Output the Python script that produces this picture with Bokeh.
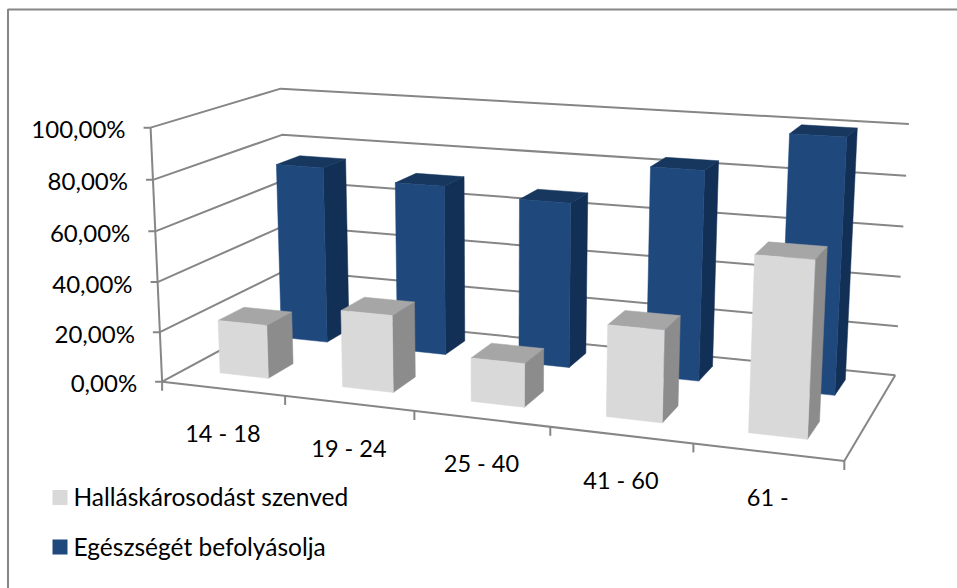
import numpy as np
from bokeh.core.properties import value
from bokeh.embed import file_html
from bokeh.models import Range1d
from bokeh.plotting import figure
from bokeh.resources import INLINE

categories = ["14 - 18", "19 - 24", "25 - 40", "41 - 60", "61 -"]
hearing_damage = [21.5, 30.5, 17.0, 35.0, 65.5]
health_affected = [74.0, 70.0, 67.0, 83.5, 99.5]
axis_ticks = [0, 20, 40, 60, 80, 100]
series_names = ["Halláskárosodást szenved", "Egészségét befolyásolja"]

WIDTH, HEIGHT = 957, 588
FONT = value("Lato")
LABEL_SIZE = "24px"
CATEGORY_SIZE = "23.5px"
LEGEND_SIZE = "24.5px"
GRID = "#868686"

# Camera for the 3D box: unit-cube corners (category, depth, height) and where they land.
cube = np.array([(0, 0, 0), (0, 1, 0), (1, 1, 0), (1, 0, 0), (0, 0, 1), (0, 1, 1), (1, 1, 1)], float)
screen = np.array([(163, 379), (285, 316), (895, 373), (844, 462), (148.5, 128), (282, 87), (908, 124)], float)


def solve_camera(world, image):
    rows, rhs = [], []
    for (a, b, c), (x, y) in zip(world, image):
        rows.append([a, b, c, 1, 0, 0, 0, 0, -x * a, -x * b, -x * c])
        rows.append([0, 0, 0, 0, a, b, c, 1, -y * a, -y * b, -y * c])
        rhs += [x, y]
    m = np.linalg.lstsq(np.array(rows), np.array(rhs), rcond=None)[0]
    return np.append(m, 1.0).reshape(3, 4)


CAMERA = solve_camera(cube, screen)


def project(u, v, z):
    h = CAMERA @ np.array([u, v, z, 1.0])
    return h[0] / h[2], h[1] / h[2]


def seg(p, a, b, color=GRID, width=2.0):
    pa, pb = project(*a), project(*b)
    p.line([pa[0], pb[0]], [pa[1], pb[1]], line_color=color, line_width=width)


def face(p, corners, color):
    pts = [project(*c) for c in corners]
    p.patch([q[0] for q in pts], [q[1] for q in pts], fill_color=color, line_color=color, line_width=0.5)


def bar(p, cat, val, depth, half_u, half_v, colors, shift=0.0):
    front, top, side = colors
    n = len(categories)
    u0, u1 = (cat + 0.5 + shift - half_u) / n, (cat + 0.5 + shift + half_u) / n
    v0, v1 = depth - half_v, depth + half_v
    z = val / 100.0
    face(p, [(u1, v0, 0), (u1, v1, 0), (u1, v1, z), (u1, v0, z)], side)
    face(p, [(u0, v0, z), (u1, v0, z), (u1, v1, z), (u0, v1, z)], top)
    face(p, [(u0, v0, 0), (u1, v0, 0), (u1, v0, z), (u0, v0, z)], front)


p = figure(width=WIDTH, height=HEIGHT, x_range=Range1d(0, WIDTH), y_range=Range1d(HEIGHT, 0),
           output_backend="svg", toolbar_location=None, min_border=0,
           x_axis_type="linear", outline_line_color=None)
p.axis.visible = False
p.grid.visible = False

# Chart frame: only its left and top sides fall inside the page
p.line([7.5, 7.5, WIDTH], [HEIGHT, 9, 9], line_color=GRID, line_width=2)

# Walls and floor
for t in axis_ticks:
    z = t / 100.0
    a, b, c = project(0, 0, z), project(0, 1, z), project(1, 1, z)
    p.line([a[0], b[0], c[0]], [a[1], b[1], c[1]], line_color=GRID, line_width=2)
    p.line([a[0] - 7, a[0]], [a[1], a[1]], line_color=GRID, line_width=2)
    p.text([a[0] - 25], [a[1] + 1], text=[f"{t},00%"], text_font=FONT, text_font_size=LABEL_SIZE,
           text_align="right", text_baseline="middle", text_color="#000000")

seg(p, (0, 0, 0), (0, 0, 1))
seg(p, (0, 0, 0), (1, 0, 0))
seg(p, (1, 0, 0), (1, 1, 0))

for i in range(len(categories) + 1):
    x, y = project(i / len(categories), 0, 0)
    p.line([x, x], [y, y + 9], line_color=GRID, line_width=2)

for i, name in enumerate(categories):
    x, y = project((i + 0.5) / len(categories), 0, 0)
    p.text([x], [y + 44.5], text=[name], text_font=FONT, text_font_size=CATEGORY_SIZE,
           text_align="center", text_baseline="middle", text_color="#000000")

# Bars, rear row first so the front row overlaps it
BLUE = ("#1F497D", "#17375E", "#122F55")
LIGHT = ("#D9D9D9", "#A6A6A6", "#8C8C8C")
for i, v in enumerate(health_affected):
    bar(p, i, v, 0.78, 0.2, 0.1, BLUE, shift=-0.025)
for i, v in enumerate(hearing_damage):
    bar(p, i, v, 0.27, 0.2, 0.1, LIGHT, shift=-0.01)

# Legend
legend_rows = [(497.0, LIGHT[0]), (546.5, BLUE[0])]
for (y, color), name in zip(legend_rows, series_names):
    p.quad(left=[52], right=[67], top=[y - 7.5], bottom=[y + 7.5], fill_color=color, line_color=None)
    p.text([73], [y - 1], text=[name], text_font=FONT, text_font_size=LEGEND_SIZE,
           text_align="left", text_baseline="middle", text_color="#000000")

open("out.html", "w").write(file_html(p, INLINE))
